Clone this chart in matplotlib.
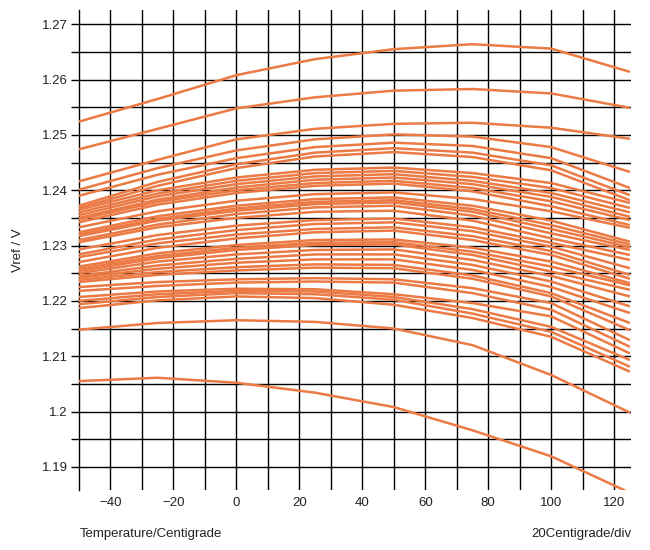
import matplotlib
matplotlib.use("Agg")
import matplotlib.pyplot as plt
import numpy as np

plt.rcParams["font.family"] = ["Liberation Sans", "DejaVu Sans"]

temps = [-50, -25, 0, 25, 50, 75, 100, 125]

# Vref readings (V), one list per device
vref_top = [
    [1.2524, 1.2565, 1.2608, 1.2637, 1.2655, 1.2664, 1.2656, 1.2614],
    [1.2474, 1.2511, 1.2548, 1.2568, 1.2580, 1.2583, 1.2575, 1.2549],
    [1.2416, 1.2455, 1.2492, 1.2511, 1.2520, 1.2522, 1.2513, 1.2493],
    [1.2401, 1.2440, 1.2472, 1.2492, 1.2501, 1.2497, 1.2478, 1.2433],
    [1.2390, 1.2428, 1.2458, 1.2478, 1.2486, 1.2480, 1.2458, 1.2404],
    [1.2372, 1.2415, 1.2447, 1.2468, 1.2476, 1.2468, 1.2445, 1.2391],
    [1.2368, 1.2408, 1.2440, 1.2461, 1.2469, 1.2460, 1.2436, 1.2382],
]
vref_mid_a = [
    [1.2365, 1.2400, 1.2423, 1.2437, 1.2441, 1.2431, 1.2413, 1.2377],
    [1.2360, 1.2394, 1.2417, 1.2431, 1.2435, 1.2424, 1.2404, 1.2368],
    [1.2355, 1.2389, 1.2411, 1.2425, 1.2429, 1.2417, 1.2395, 1.2360],
    [1.2350, 1.2383, 1.2405, 1.2419, 1.2423, 1.2411, 1.2388, 1.2352],
    [1.2347, 1.2379, 1.2400, 1.2413, 1.2417, 1.2404, 1.2380, 1.2346],
    [1.2342, 1.2374, 1.2395, 1.2408, 1.2412, 1.2398, 1.2371, 1.2337],
]
vref_mid_b = [
    [1.2333, 1.2362, 1.2381, 1.2393, 1.2396, 1.2384, 1.2362, 1.2332],
    [1.2324, 1.2353, 1.2372, 1.2384, 1.2387, 1.2372, 1.2345, 1.2307],
    [1.2320, 1.2348, 1.2367, 1.2379, 1.2382, 1.2366, 1.2337, 1.2302],
    [1.2317, 1.2345, 1.2363, 1.2375, 1.2378, 1.2361, 1.2330, 1.2297],
    [1.2310, 1.2338, 1.2357, 1.2369, 1.2372, 1.2354, 1.2322, 1.2292],
    [1.2306, 1.2333, 1.2350, 1.2361, 1.2363, 1.2345, 1.2313, 1.2283],
    [1.2293, 1.2319, 1.2336, 1.2346, 1.2349, 1.2333, 1.2305, 1.2274],
    [1.2284, 1.2311, 1.2328, 1.2339, 1.2342, 1.2326, 1.2298, 1.2259],
    [1.2279, 1.2304, 1.2320, 1.2330, 1.2333, 1.2317, 1.2290, 1.2247],
    [1.2270, 1.2296, 1.2313, 1.2324, 1.2327, 1.2310, 1.2283, 1.2240],
]
vref_mid_c = [
    [1.2262, 1.2286, 1.2301, 1.2310, 1.2311, 1.2296, 1.2271, 1.2232],
    [1.2258, 1.2281, 1.2296, 1.2305, 1.2306, 1.2289, 1.2262, 1.2228],
    [1.2254, 1.2277, 1.2292, 1.2301, 1.2302, 1.2283, 1.2253, 1.2220],
    [1.2250, 1.2271, 1.2284, 1.2292, 1.2293, 1.2274, 1.2245, 1.2208],
    [1.2245, 1.2264, 1.2276, 1.2284, 1.2284, 1.2265, 1.2235, 1.2190],
    [1.2242, 1.2258, 1.2269, 1.2275, 1.2275, 1.2256, 1.2225, 1.2178],
    [1.2238, 1.2252, 1.2261, 1.2266, 1.2265, 1.2246, 1.2214, 1.2160],
    [1.2234, 1.2247, 1.2255, 1.2260, 1.2259, 1.2240, 1.2208, 1.2147],
    [1.2225, 1.2234, 1.2239, 1.2241, 1.2239, 1.2223, 1.2196, 1.2129],
    [1.2218, 1.2227, 1.2233, 1.2235, 1.2233, 1.2214, 1.2184, 1.2117],
]
vref_low = [
    [1.2207, 1.2217, 1.2222, 1.2221, 1.2212, 1.2196, 1.2172, 1.2105],
    [1.2200, 1.2212, 1.2218, 1.2217, 1.2207, 1.2185, 1.2153, 1.2093],
    [1.2194, 1.2207, 1.2214, 1.2212, 1.2202, 1.2177, 1.2144, 1.2081],
    [1.2187, 1.2201, 1.2208, 1.2205, 1.2193, 1.2169, 1.2135, 1.2072],
    [1.2148, 1.2160, 1.2165, 1.2162, 1.2150, 1.2120, 1.2066, 1.1998],
    [1.2055, 1.2061, 1.2052, 1.2034, 1.2008, 1.1966, 1.1919, 1.1853],
]

xticks = [-40, -20, 0, 20, 40, 60, 80, 100, 120]
xgrid = [-40, -30, -20, -10, 0, 10, 20, 30, 40, 50, 60, 70, 80, 90, 100, 110, 120]
yticks = [1.19, 1.195, 1.20, 1.205, 1.21, 1.215, 1.22, 1.225, 1.23, 1.235,
          1.24, 1.245, 1.25, 1.255, 1.26, 1.265, 1.27]
ylabels = ["1.19", "", "1.2", "", "1.21", "", "1.22", "", "1.23", "",
           "1.24", "", "1.25", "", "1.26", "", "1.27"]

line_color = "#ec7a45"
grid_color = "#000000"

fig = plt.figure(figsize=(6.5, 5.5), dpi=100)
ax = fig.add_axes([0.1215, 0.109, 0.85, 0.873])

for group in (vref_top, vref_mid_a, vref_mid_b, vref_mid_c, vref_low):
    for series in group:
        ax.plot(temps, series, color=line_color, lw=1.8, zorder=3,
                solid_joinstyle="round", solid_capstyle="butt")

ax.set_xlim(-50, 125.5)
ax.set_ylim(1.1858, 1.2726)

ax.set_xticks(xticks)
ax.set_xticks(xgrid, minor=True)
ax.set_yticks(yticks)
ax.set_yticklabels(ylabels)

ax.grid(True, which="both", axis="x", color=grid_color, lw=1.0)
ax.grid(True, which="major", axis="y", color=grid_color, lw=1.0)
ax.set_axisbelow(True)

for side in ("top", "right", "bottom"):
    ax.spines[side].set_visible(False)
ax.spines["left"].set_color(grid_color)
ax.spines["left"].set_linewidth(1.0)

ax.tick_params(axis="x", which="both", length=0, pad=5, labelsize=9.5,
               labelcolor="#222222")
ax.tick_params(axis="y", length=6, width=1.0, color=grid_color, pad=2,
               labelsize=9.5, labelcolor="#222222")

fig.text(0.028, 0.545, "Vref / V", rotation=90, ha="center", va="center",
         fontsize=9.5, color="#222222")
fig.text(0.123, 0.03, "Temperature/Centigrade", ha="left", va="center",
         fontsize=9.5, color="#222222")
fig.text(0.972, 0.03, "20Centigrade/div", ha="right", va="center",
         fontsize=9.5, color="#222222")

fig.savefig("out.png", dpi=100)
